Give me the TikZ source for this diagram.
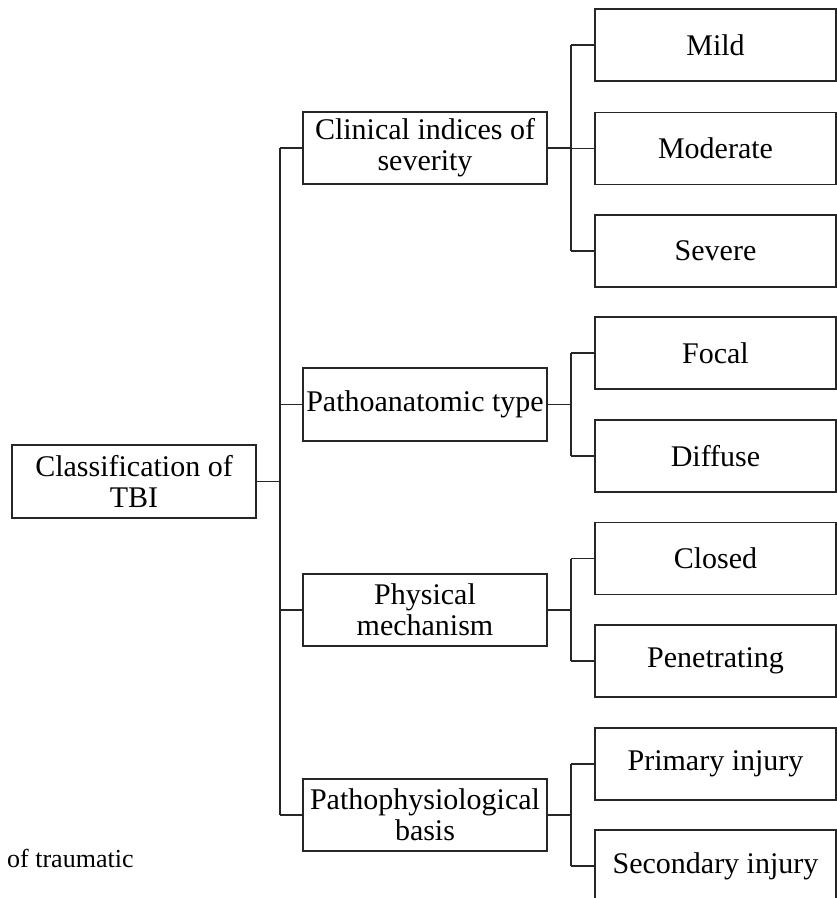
\documentclass[tikz,border=0pt]{standalone}
\usepackage{fontspec}
\setmainfont{Liberation Serif}
\begin{document}
\begin{tikzpicture}[x=1pt,y=-1pt,
  box/.style={draw=black!85,line width=1.6pt,minimum height=72pt,inner sep=0pt,align=center,
    font=\fontsize{30}{31}\selectfont},
  rootbox/.style={box,minimum width=244pt},
  midbox/.style={box,minimum width=244pt},
  leafbox/.style={box,minimum width=241pt},
  link/.style={draw=black!85,line width=1.6pt}]
\clip (0,0) rectangle (837,898);
\fill[white] (0,0) rectangle (837,898);
% root
\node[rootbox,minimum height=73pt] (root) at (134,481.5) {Classification of\\TBI};
% mid
\node[midbox] (clin) at (425,148) {Clinical indices of\\severity};
\node[midbox,minimum height=73pt] (patho) at (425,404.5) {Pathoanatomic type};
\node[midbox] (phys) at (425,610) {Physical\\mechanism};
\node[midbox] (pphys) at (425,815) {Pathophysiological\\basis};
% leaves
\node[leafbox] (mild) at (715.5,45) {Mild};
\node[leafbox] (mod) at (715.5,148.5) {Moderate};
\node[leafbox] (sev) at (715.5,251) {Severe};
\node[leafbox] (focal) at (715.5,353) {Focal};
\node[leafbox] (diff) at (715.5,456) {Diffuse};
\node[leafbox] (closed) at (715.5,558.5) {Closed};
\node[leafbox] (pen) at (715.5,661) {Penetrating};
\node[leafbox] (prim) at (715.5,764) {Primary injury};
\node[leafbox] (sec) at (715.5,866) {Secondary injury};
% caption fragment
\node[anchor=base west,inner sep=0pt,font=\fontsize{26}{28}\selectfont] (cap) at (7,867.5) {of traumatic};
% trunk coordinates
\coordinate (t) at (280,0);
\coordinate (b) at (571,0);
% root to mid
\draw[link] (root.east) -- (root.east -| t);
\draw[link] (clin.west -| t) -- (pphys.west -| t);
\foreach \m in {clin,patho,phys,pphys} \draw[link] (\m.west -| t) -- (\m.west);
% mid to leaves
\draw[link] (clin.east) -- (clin.east -| b);
\draw[link] (mild.west -| b) -- (sev.west -| b);
\foreach \l in {mild,mod,sev} \draw[link] (\l.west -| b) -- (\l.west);
\draw[link] (patho.east) -- (patho.east -| b);
\draw[link] (focal.west -| b) -- (diff.west -| b);
\foreach \l in {focal,diff} \draw[link] (\l.west -| b) -- (\l.west);
\draw[link] (phys.east) -- (phys.east -| b);
\draw[link] (closed.west -| b) -- (pen.west -| b);
\foreach \l in {closed,pen} \draw[link] (\l.west -| b) -- (\l.west);
\draw[link] (pphys.east) -- (pphys.east -| b);
\draw[link] (prim.west -| b) -- (sec.west -| b);
\foreach \l in {prim,sec} \draw[link] (\l.west -| b) -- (\l.west);
\end{tikzpicture}
\end{document}
